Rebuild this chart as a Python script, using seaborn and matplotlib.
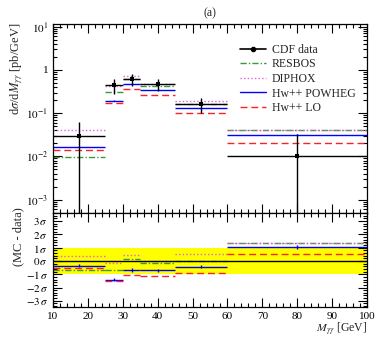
import matplotlib
matplotlib.use("Agg")
import matplotlib.pyplot as plt
import seaborn as sns
import numpy as np
from matplotlib.lines import Line2D
from matplotlib.ticker import MultipleLocator, FixedLocator, FuncFormatter, LogLocator, NullFormatter

# Diphoton mass bins [GeV]
bin_lo = [10, 25, 30, 35, 45, 60]
bin_hi = [25, 30, 35, 45, 60, 100]

# Measured cross section [pb/GeV] and its uncertainty
data_val = [0.030, 0.45, 0.62, 0.47, 0.162, 0.010]
data_err = [0.031, 0.17, 0.20, 0.14, 0.063, 0.023]

# Predictions [pb/GeV]
resbos = [0.0098, 0.315, 0.63, 0.43, 0.162, 0.040]
diphox = [0.040, 0.43, 0.716, 0.47, 0.192, 0.041]
powheg = [0.0169, 0.195, 0.47, 0.345, 0.130, 0.032]
powheg_err = [0.0008, 0.008, 0.015, 0.010, 0.004, 0.0012]
hw_lo = [0.0137, 0.176, 0.37, 0.26, 0.100, 0.0206]

# (MC - data) in units of sigma
pull_resbos = [-0.65, -0.71, 0.17, -0.15, 0.0, 1.35]
pull_diphox = [0.35, -0.15, 0.41, 0.0, 0.50, 1.36]
pull_powheg = [-0.35, -1.41, -0.69, -0.71, -0.45, 1.05]
pull_powheg_err = [0.12, 0.12, 0.12, 0.12, 0.12, 0.12]
pull_lo = [-0.53, -1.53, -1.03, -1.16, -0.90, 0.53]

labels = ["CDF data", "RESBOS", "DIPHOX", "Hw++ POWHEG", "Hw++ LO"]

sns.set_theme(style="ticks")
plt.rcParams["font.family"] = ["Liberation Serif", "DejaVu Serif"]
plt.rcParams["mathtext.fontset"] = "stix"
plt.rcParams["axes.linewidth"] = 0.9

styles = {
    "RESBOS": dict(color="#3a9a3a", ls=(0, (4.5, 1.5, 1, 1.5))),
    "DIPHOX": dict(color="#e060e0", ls=(0, (1, 1.6))),
    "Hw++ POWHEG": dict(color="#0000ff", ls="-"),
    "Hw++ LO": dict(color="#ff2020", ls=(0, (5, 2.8))),
}
lw = 1.0

lo = np.array(bin_lo, float)
hi = np.array(bin_hi, float)
ctr = 0.5 * (lo + hi)
half = 0.5 * (hi - lo)

W, H = 378, 337
fig = plt.figure(figsize=(W / 100, H / 100), dpi=100)
ax1 = fig.add_axes([53 / W, 1 - 213 / H, 314 / W, (213 - 24.5) / H])
ax2 = fig.add_axes([53 / W, 1 - 306.8 / H, 314 / W, (306.8 - 213) / H])

# --- main panel ---
ax1.set_yscale("log")
for name, vals in [("RESBOS", resbos), ("DIPHOX", diphox),
                   ("Hw++ POWHEG", powheg), ("Hw++ LO", hw_lo)]:
    st = styles[name]
    ax1.hlines(vals, lo, hi, colors=st["color"], linestyles=st["ls"], lw=lw, zorder=2)
ax1.errorbar(ctr, powheg, yerr=powheg_err, fmt="none", ecolor="#0000ff", lw=lw, zorder=2)

ax1.errorbar(ctr, data_val, xerr=half, yerr=data_err, fmt="none", ecolor="black",
             lw=1.0, capsize=0, zorder=3)
sns.scatterplot(x=ctr, y=data_val, ax=ax1, color="black", marker="s", s=9,
                linewidth=0, zorder=4)

ax1.set_xlim(10, 100)
ax1.set_ylim(10 ** -3.31, 10 ** 1.05)
ax1.xaxis.set_major_locator(MultipleLocator(10))
ax1.xaxis.set_minor_locator(MultipleLocator(2))
ax1.yaxis.set_major_locator(LogLocator(base=10, numticks=20))
ax1.yaxis.set_minor_locator(LogLocator(base=10, subs=np.arange(2, 10), numticks=20))
ax1.yaxis.set_minor_formatter(NullFormatter())


def log_fmt(v, pos):
    e = int(round(np.log10(v)))
    return "1" if e == 0 else r"$10^{%d}$" % e


ax1.yaxis.set_major_formatter(FuncFormatter(log_fmt))
ax1.tick_params(which="both", direction="in", top=True, right=True,
                labelbottom=False, labelsize=8, width=0.8, colors="black")
ax1.tick_params(which="major", length=6.5)
ax1.tick_params(which="minor", length=3)
ax1.set_ylabel(r"d$\sigma$/d$M_{\gamma\gamma}$ [pb/GeV]", fontsize=9, loc="top")
ax1.yaxis.set_label_coords(-0.09, 1.01)
ax1.set_title("(a)", fontsize=8.5, pad=6)

# legend
leg_handles = [Line2D([], [], color="black", lw=1.2, marker="o", ms=3)]
for name in labels[1:]:
    st = styles[name]
    leg_handles.append(Line2D([], [], color=st["color"], ls=st["ls"], lw=lw))
ax1.legend(leg_handles, labels, loc="upper left", bbox_to_anchor=(0.595, 0.898),
           frameon=False, fontsize=8.5, handlelength=2.2, handletextpad=0.5,
           labelspacing=0.22, borderpad=0, borderaxespad=0)

# --- pull panel ---
ax2.fill_between([10, 100], -1, 1, color="#ffff00", lw=0, zorder=0)
ax2.axhline(0, color="black", lw=1.0, zorder=1)
for name, vals in [("RESBOS", pull_resbos), ("DIPHOX", pull_diphox),
                   ("Hw++ POWHEG", pull_powheg), ("Hw++ LO", pull_lo)]:
    st = styles[name]
    z = 0.5 if name in ("RESBOS", "DIPHOX") else 2
    ax2.hlines(vals, lo, hi, colors=st["color"], linestyles=st["ls"], lw=lw, zorder=z)
ax2.errorbar(ctr, pull_powheg, yerr=pull_powheg_err, fmt="none", ecolor="#0000ff",
             lw=lw, zorder=2)

ax2.set_xlim(10, 100)
ax2.set_ylim(-3.45, 3.6)
ax2.xaxis.set_major_locator(MultipleLocator(10))
ax2.xaxis.set_minor_locator(MultipleLocator(2))
ax2.yaxis.set_major_locator(FixedLocator([-3, -2, -1, 0, 1, 2, 3]))
ax2.yaxis.set_minor_locator(MultipleLocator(0.2))
ax2.yaxis.set_major_formatter(FuncFormatter(lambda v, p: r"$%d\,\sigma$" % int(round(v))))
ax2.tick_params(which="both", direction="in", top=True, right=True,
                labelsize=8, width=0.8, colors="black")
ax2.tick_params(which="major", length=6.5)
ax2.tick_params(which="minor", length=3)
ax2.set_ylabel("(MC - data)", fontsize=9, loc="top")
ax2.yaxis.set_label_coords(-0.09, 1.06)
ax2.set_xlabel(r"$M_{\gamma\gamma}$ [GeV]", fontsize=8.5, loc="right")
ax2.xaxis.set_label_coords(1.0, -0.15)

for ax in (ax1, ax2):
    for sp in ax.spines.values():
        sp.set_color("black")

fig.savefig("out.png", dpi=100)
